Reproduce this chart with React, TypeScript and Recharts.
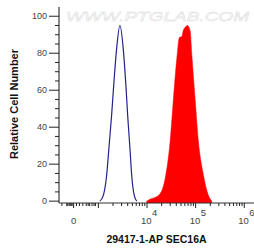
import { Area, ComposedChart, Line, XAxis, YAxis } from 'recharts'

// x is in display decades: 4 = 10^4, 5 = 10^5 ...; 0 sits at ~2.49 (biexponential scale)
const ZERO_POS = 2.49

const ISOTYPE = [
  { x: 3.03, y: 0 },
  { x: 3.1, y: 3 },
  { x: 3.17, y: 14 },
  { x: 3.216, y: 28.5 },
  { x: 3.272, y: 46.5 },
  { x: 3.32, y: 64.5 },
  { x: 3.375, y: 82.5 },
  { x: 3.443, y: 95 },
  { x: 3.511, y: 82.5 },
  { x: 3.561, y: 64.5 },
  { x: 3.602, y: 46.5 },
  { x: 3.649, y: 28.5 },
  { x: 3.685, y: 14 },
  { x: 3.738, y: 3 },
  { x: 3.79, y: 0 },
]

const SEC16A = [
  { x: 3.99, y: 0 },
  { x: 4.06, y: 1 },
  { x: 4.165, y: 2 },
  { x: 4.268, y: 4 },
  { x: 4.33, y: 7.5 },
  { x: 4.371, y: 12 },
  { x: 4.474, y: 32 },
  { x: 4.542, y: 55 },
  { x: 4.612, y: 77 },
  { x: 4.666, y: 88.5 },
  { x: 4.715, y: 89 },
  { x: 4.742, y: 92 },
  { x: 4.784, y: 94 },
  { x: 4.831, y: 95 },
  { x: 4.887, y: 92 },
  { x: 4.922, y: 79 },
  { x: 4.99, y: 55 },
  { x: 5.058, y: 32 },
  { x: 5.161, y: 14 },
  { x: 5.264, y: 3 },
  { x: 5.334, y: 0 },
]

const Y_TICKS = [0, 5, 10, 15, 20, 25, 30, 35, 40, 45, 50, 55, 60, 65, 70, 75, 80, 85, 90, 95, 100]
const Y_LABELED = [0, 20, 40, 60, 80, 100]

// major x ticks and their labels (null = plain "0", '' = unlabeled)
const X_MAJOR = [ZERO_POS, 3, 4, 5, 6]
const X_EXPONENTS: Record<string, string | null> = { '2.49': null, '3': '', '4': '4', '5': '5', '6': '6' }
const X_MINOR_LINEAR = [2.25, 2.35, 2.37, 2.4, 2.42, 2.44, 2.46, 2.55, 2.61, 2.68, 2.75, 2.79, 2.82, 2.87, 2.91, 2.94]
const X_MINOR_LOG = [3, 4, 5].flatMap((n) => [2, 3, 4, 5, 6, 7, 8, 9].map((k) => +(n + Math.log10(k)).toFixed(3)))
const X_TICKS = [...X_MINOR_LINEAR, ...X_MINOR_LOG, ...X_MAJOR].sort((a, b) => a - b)

const FONT = '"Liberation Sans", Arial, sans-serif'

function YTick({ x, y, payload }: any) {
  const major = Y_LABELED.includes(payload.value)
  return (
    <g>
      <line x1={x - (major ? 10 : 4)} x2={x} y1={y} y2={y} stroke="#222" strokeWidth={1} />
      {major && (
        <text x={x - 12} y={y + 3.2} textAnchor="end" fontSize={9} fontFamily={FONT} fill="#444">
          {payload.value}
        </text>
      )}
    </g>
  )
}

function XTick({ x, y, payload }: any) {
  const major = X_MAJOR.includes(payload.value)
  const exp = X_EXPONENTS[String(payload.value)]
  return (
    <g>
      <line x1={x} x2={x} y1={y} y2={y + (major ? 5 : 3)} stroke="#222" strokeWidth={1} />
      {major && exp === null && (
        <text x={x} y={y + 21} textAnchor="middle" fontSize={9.5} fontFamily={FONT} fill="#444">
          0
        </text>
      )}
      {major && exp && (
        <g fontSize={9.5} fontFamily={FONT} fill="#444">
          <text x={x - 6} y={y + 21}>10</text>
          <text x={x + 5} y={y + 13}>{exp}</text>
        </g>
      )}
    </g>
  )
}

export default function App() {
  return (
    <div style={{ position: 'absolute', left: 0, top: 0, width: 254, height: 251, overflow: 'hidden' }}>
      <svg width={254} height={251} style={{ position: 'absolute', left: 0, top: 0 }}>
        <text
          x={66}
          y={21}
          textLength={183}
          lengthAdjust="spacingAndGlyphs"
          fontSize={13}
          fontStyle="italic"
          fontFamily={FONT}
          fill="#ffffff"
          stroke="#dadada"
          strokeWidth={0.45}
        >
          WWW.PTGLAB.COM
        </text>
        <text
          transform="translate(18,104) rotate(-90)"
          textAnchor="middle"
          fontSize={11}
          fontWeight="bold"
          fontFamily={FONT}
          fill="#111"
        >
          Relative Cell Number
        </text>
        <text x={156.5} y={243} textAnchor="middle" fontSize={10.5} fontWeight="bold" fontFamily={FONT} fill="#111">
          29417-1-AP SEC16A
        </text>
      </svg>
      <div style={{ position: 'absolute', left: 0, top: 0 }}>
        <ComposedChart width={254} height={251} margin={{ top: 7, right: 0, bottom: 0, left: 0 }}>
          <XAxis
            xAxisId="top"
            orientation="top"
            type="number"
            dataKey="x"
            domain={[2.19, 6.2]}
            allowDataOverflow
            height={0}
            tick={false}
            tickLine={false}
            axisLine={{ stroke: '#777' }}
          />
          <XAxis
            type="number"
            dataKey="x"
            domain={[2.19, 6.2]}
            allowDataOverflow
            ticks={X_TICKS}
            interval={0}
            height={48}
            tickSize={0}
            tickMargin={0}
            tickLine={false}
            tick={<XTick />}
            axisLine={{ stroke: '#333' }}
          />
          <YAxis
            type="number"
            domain={[-1, 105]}
            allowDataOverflow
            ticks={Y_TICKS}
            interval={0}
            width={59}
            tickSize={0}
            tickMargin={0}
            tickLine={false}
            tick={<YTick />}
            axisLine={{ stroke: '#111' }}
          />
          <Area
            data={SEC16A}
            dataKey="y"
            type="monotone"
            fill="#ff0000"
            fillOpacity={1}
            stroke="#ff0000"
            strokeWidth={0.5}
            baseValue={-1}
            isAnimationActive={false}
          />
          <Line
            data={ISOTYPE}
            dataKey="y"
            type="monotone"
            stroke="#22228f"
            strokeWidth={1.2}
            dot={false}
            isAnimationActive={false}
          />
        </ComposedChart>
      </div>
    </div>
  )
}
